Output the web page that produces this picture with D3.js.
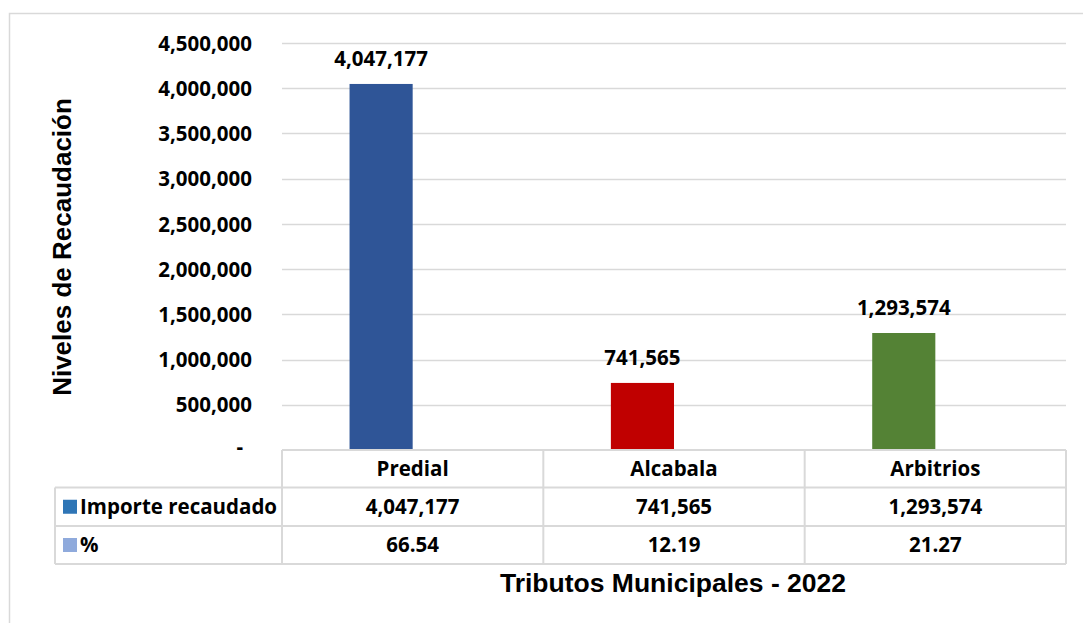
<!DOCTYPE html>
<html>
<head>
<meta charset="utf-8">
<script src="https://cdn.jsdelivr.net/npm/d3@7"></script>
<style>
  html, body { margin: 0; padding: 0; background: #fff; }
  svg { display: block; }
</style>
</head>
<body>
<svg id="chart" width="1083" height="623"></svg>
<script>
// ---- data ----
const categories = ["Predial", "Alcabala", "Arbitrios"];
const seriesNames = ["Importe recaudado", "%"];
const importeValues = [4047177, 741565, 1293574];
const percentValues = [66.54, 12.19, 21.27];
const barColors = ["#2F5597", "#C00000", "#548235"];
const legendColors = ["#2E75B6", "#8FAADC"];
const yTicks = [0, 500000, 1000000, 1500000, 2000000, 2500000, 3000000, 3500000, 4000000, 4500000];
const yTitle = "Niveles de Recaudación";
const xTitle = "Tributos Municipales - 2022";

// ---- layout ----
const svg = d3.select("#chart");
const W = 1083, H = 623;
const plot = { left: 282, right: 1066, top: 43, bottom: 450 };
const tableLeft = 55;
const rowLines = [450, 487.5, 526, 564];
const grid = "#d9d9d9";
const calibri = "'Open Sans', Lato, sans-serif";
const fs = 20.5;
const arial = "'Liberation Sans', Arial, sans-serif";

svg.append("rect").attr("width", W).attr("height", H).attr("fill", "#fff");
// outer chart border (extends beyond the right/bottom edges)
svg.append("rect").attr("x", 9.5).attr("y", 13.5).attr("width", W).attr("height", H)
  .attr("fill", "none").attr("stroke", grid).attr("stroke-width", 1.5);

const y = d3.scaleLinear().domain([0, 4500000]).range([plot.bottom, plot.top]);
const x = d3.scaleBand().domain(categories).range([plot.left, plot.right]).padding(0);
const xs = d3.scaleBand().domain(seriesNames).range([0, x.bandwidth()]).paddingInner(0).paddingOuter(1.07);

// gridlines
svg.append("g").selectAll("line").data(yTicks.filter(d => d > 0)).join("line")
  .attr("x1", plot.left).attr("x2", plot.right)
  .attr("y1", d => Math.round(y(d)) + 0.5).attr("y2", d => Math.round(y(d)) + 0.5)
  .attr("stroke", grid).attr("stroke-width", 1.5);

// y axis labels
const yAxis = d3.axisLeft(y).tickValues(yTicks).tickSize(0).tickPadding(30)
  .tickFormat(d => d === 0 ? "-" : d3.format(",")(d));
const ya = svg.append("g").attr("transform", `translate(${plot.left},0)`).call(yAxis);
ya.select(".domain").remove();
ya.selectAll("text").attr("font-family", calibri).attr("font-weight", "bold")
  .attr("font-size", fs).attr("fill", "#000")
  .attr("x", d => d === 0 ? -39 : -30)
  .attr("dy", d => d === 0 ? "0.15em" : "0.35em");

// bars: Importe
const barsG = svg.append("g");
barsG.selectAll("rect.imp").data(categories).join("rect").attr("class", "imp")
  .attr("x", (c) => x(c) + xs(seriesNames[0]))
  .attr("width", xs.bandwidth())
  .attr("y", (c, i) => y(importeValues[i]))
  .attr("height", (c, i) => y(0) - y(importeValues[i]))
  .attr("fill", (c, i) => barColors[i]);
// bars: % (tiny on this scale)
barsG.selectAll("rect.pct").data(categories).join("rect").attr("class", "pct")
  .attr("x", (c) => x(c) + xs(seriesNames[1]))
  .attr("width", xs.bandwidth())
  .attr("y", (c, i) => y(percentValues[i]))
  .attr("height", (c, i) => y(0) - y(percentValues[i]))
  .attr("fill", legendColors[1]);

// data labels
svg.append("g").selectAll("text").data(categories).join("text")
  .attr("x", c => x(c) + xs(seriesNames[0]) + xs.bandwidth() / 2)
  .attr("y", (c, i) => y(importeValues[i]) - 18)
  .attr("text-anchor", "middle")
  .attr("font-family", calibri).attr("font-weight", "bold").attr("font-size", fs)
  .attr("fill", "#000")
  .text((c, i) => d3.format(",")(importeValues[i]));

// data table lines
const tbl = svg.append("g").attr("stroke", grid).attr("stroke-width", 2).attr("fill", "none");
tbl.append("line").attr("x1", plot.left).attr("x2", plot.right).attr("y1", rowLines[0]).attr("y2", rowLines[0]);
rowLines.slice(1).forEach(yy => {
  tbl.append("line").attr("x1", tableLeft).attr("x2", plot.right).attr("y1", yy).attr("y2", yy);
});
const colXs = categories.map(c => x(c)).concat([plot.right]);
colXs.forEach(xx => {
  tbl.append("line").attr("x1", xx).attr("x2", xx).attr("y1", rowLines[0]).attr("y2", rowLines[3]);
});
tbl.append("line").attr("x1", tableLeft).attr("x2", tableLeft).attr("y1", rowLines[1]).attr("y2", rowLines[3]);

// table text
const rowMid = i => (rowLines[i] + rowLines[i + 1]) / 2;
const tt = svg.append("g").attr("font-family", calibri).attr("font-weight", "bold")
  .attr("font-size", fs).attr("fill", "#000");
tt.selectAll("text.hdr").data(categories).join("text").attr("class", "hdr")
  .attr("x", c => x(c) + x.bandwidth() / 2).attr("y", rowMid(0)).attr("dy", "0.35em")
  .attr("text-anchor", "middle").text(c => c);
tt.selectAll("text.r1").data(categories).join("text").attr("class", "r1")
  .attr("x", c => x(c) + x.bandwidth() / 2).attr("y", rowMid(1)).attr("dy", "0.35em")
  .attr("text-anchor", "middle").text((c, i) => d3.format(",")(importeValues[i]));
tt.selectAll("text.r2").data(categories).join("text").attr("class", "r2")
  .attr("x", c => x(c) + x.bandwidth() / 2).attr("y", rowMid(2)).attr("dy", "0.35em")
  .attr("text-anchor", "middle").text((c, i) => d3.format(".2f")(percentValues[i]));

// legend keys + series names
seriesNames.forEach((s, i) => {
  const cy = rowMid(i + 1);
  svg.append("rect").attr("x", 63).attr("y", cy - 7).attr("width", 14).attr("height", 14)
    .attr("fill", legendColors[i]);
  tt.append("text").attr("x", 80).attr("y", cy).attr("dy", "0.35em").text(s);
});

// axis titles
svg.append("text")
  .attr("transform", `translate(71,247) rotate(-90)`)
  .attr("text-anchor", "middle")
  .attr("font-family", arial).attr("font-weight", "bold").attr("font-size", 26).attr("fill", "#000")
  .text(yTitle);
svg.append("text")
  .attr("x", 673).attr("y", 592)
  .attr("text-anchor", "middle")
  .attr("font-family", arial).attr("font-weight", "bold").attr("font-size", 26.5).attr("fill", "#000")
  .text(xTitle);
</script>
</body>
</html>
